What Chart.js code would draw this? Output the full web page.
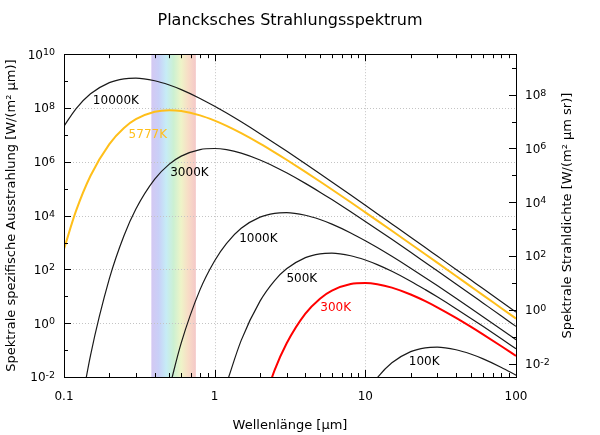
<!DOCTYPE html>
<html>
  <head>
    <meta charset="UTF-8">
    <title>Plancksches Strahlungsspektrum</title>
    <script src="https://cdn.jsdelivr.net/npm/chart.js"></script>
    <style>
      body { margin: 0; background: #fff; }
    </style>
  </head>
  <body>
    <canvas id="myChart" width="600" height="435"></canvas>

    <script>
      // Wellenlängen in µm (x-Achse)
      const wavelengths = [0.1, 0.12, 0.15, 0.2, 0.25, 0.3, 0.4, 0.5, 0.6, 0.8,
        1, 1.2, 1.5, 2, 2.5, 3, 4, 5, 6, 8,
        10, 12, 15, 20, 25, 30, 40, 50, 60, 80, 100];

      // spezifische Ausstrahlung in W/(m² µm)
      const t10000 = [2.11e7, 9.33e7, 3.37e8, 8.79e8, 1.217e9, 1.283e9, 1.029e9, 7.14e8, 4.81e8, 2.27e8,
        1.163e8, 6.49e7, 3.06e7, 1.11e7, 4.92e6, 2.50e6, 8.44e5, 3.59e5, 1.776e5, 5.80e4,
        2.42e4, 1.181e4, 4890, 1568, 647, 313, 99.8, 41.0, 19.83, 6.29, 2.58];
      const t5777 = [571, 1.457e4, 3.03e5, 4.57e6, 1.806e7, 3.82e7, 7.24e7, 8.28e7, 7.70e7, 5.31e7,
        3.38e7, 2.16e7, 1.157e7, 4.73e6, 2.24e6, 1.190e6, 4.23e5, 1.855e5, 9.35e4, 3.13e4,
        1.323e4, 6520, 2730, 882, 366, 178, 56.9, 23.4, 11.36, 3.61, 1.484];
      const t3000 = [null, 6.6e-5, 0.064, 45.1, 1786, 1.756e4, 2.27e5, 8.18e5, 1.626e6, 2.85e6,
        3.12e6, 2.82e6, 2.10e6, 1.170e6, 6.59e5, 3.90e5, 1.577e5, 7.44e4, 3.93e4, 1.391e4,
        6080, 3060, 1308, 432, 181, 88.8, 28.7, 11.9, 5.78, 1.849, 0.762];
      const t1000 = [null, null, null, null, null, null, null, 0.0038, 0.185, 17.7,
        211, 933, 3370, 8790, 12170, 12830, 10290, 7140, 4810, 2270,
        1163, 649, 306, 111, 49.2, 25.0, 8.44, 3.59, 1.776, 0.580, 0.242];
      const t500 = [null, null, null, null, null, null, null, null, null, null,
        null, 0.0058, 0.230, 6.60, 38.4, 105, 275, 380, 401, 322,
        223, 150, 84.8, 36.4, 17.7, 9.57, 3.47, 1.539, 0.782, 0.264, 0.112];
      const t300 = [null, null, null, null, null, null, null, null, null, null,
        null, null, null, 4.5e-4, 0.0179, 0.1757, 2.27, 8.18, 16.26, 28.5,
        31.2, 28.2, 21.0, 11.7, 6.59, 3.90, 1.577, 0.744, 0.393, 0.139, 0.0608];
      const t100 = [null, null, null, null, null, null, null, null, null, null,
        null, null, null, null, null, null, null, null, null, null,
        0.00211, 0.00933, 0.0337, 0.0879, 0.1217, 0.1283, 0.1029, 0.0714, 0.0481, 0.0227, 0.01163];

      const xTicks = [0.1, 1, 10, 100];
      const yTicks = [1e-2, 1e0, 1e2, 1e4, 1e6, 1e8, 1e10];
      const y2Ticks = [1e-2, 1e0, 1e2, 1e4, 1e6, 1e8];

      // sichtbarer Bereich in µm
      const visibleBand = [0.38, 0.75];
      const bandColors = ['#d4c8f2', '#c9d0f8', '#c6ecf6', '#ccf0d2', '#eef4c8', '#f8dcc6', '#f4c8c8'];

      // Beschriftungen der Kurven (Wellenlänge, Wert)
      const curveLabels = ['10000K', '5777K', '3000K', '1000K', '500K', '300K', '100K'];
      const labelWavelengths = [0.221, 0.360, 0.680, 1.95, 3.79, 6.36, 24.6];
      const labelValues = [1.79e8, 9.8e6, 3.8e5, 1340, 43.9, 3.77, 0.0362];

      const ORANGE = '#ffbf1a';
      const RED = '#ff0000';
      const DARK = '#1a1a1a';
      const lineColors = [DARK, ORANGE, DARK, DARK, DARK, RED, DARK];
      const lineWidths = [1.2, 2, 1.2, 1.2, 1.2, 2, 1.2];
      const series = [t10000, t5777, t3000, t1000, t500, t300, t100];

      const rightTitle = 'Spektrale Strahldichte [W/(m² µm sr)]';

      Chart.defaults.font.family = 'DejaVu Sans';
      Chart.defaults.color = '#000';

      // 10 hoch n, mit kleinem Exponenten
      function drawPow(ctx, v, px, py, align) {
        const e = String(Math.round(Math.log10(v)));
        ctx.font = '12px "DejaVu Sans"';
        const w1 = ctx.measureText('10').width;
        ctx.font = '9.5px "DejaVu Sans"';
        const w2 = ctx.measureText(e).width;
        const x0 = align === 'right' ? px - w1 - w2 : px;
        const base = py + 4.4;
        ctx.textAlign = 'left';
        ctx.textBaseline = 'alphabetic';
        ctx.font = '12px "DejaVu Sans"';
        ctx.fillText('10', x0, base);
        ctx.font = '9.5px "DejaVu Sans"';
        ctx.fillText(e, x0 + w1, base - 3.5);
      }

      const framePlugin = {
        id: 'frame',
        beforeDatasetsDraw(chart) {
          const {ctx, chartArea: a, scales: {x, y}} = chart;
          ctx.save();
          // Regenbogen
          const x0 = x.getPixelForValue(visibleBand[0]);
          const x1 = x.getPixelForValue(visibleBand[1]);
          const g = ctx.createLinearGradient(x0, 0, x1, 0);
          bandColors.forEach((c, i) => g.addColorStop(i / (bandColors.length - 1), c));
          ctx.fillStyle = g;
          ctx.fillRect(x0, a.top, x1 - x0, a.bottom - a.top);
          // gepunktetes Gitter
          ctx.strokeStyle = '#c4c4c4';
          ctx.lineWidth = 1;
          ctx.setLineDash([1, 2]);
          ctx.beginPath();
          yTicks.slice(1, -1).forEach(v => {
            const py = Math.round(y.getPixelForValue(v)) + 0.5;
            ctx.moveTo(a.left, py);
            ctx.lineTo(a.right, py);
          });
          xTicks.slice(1, -1).forEach(v => {
            const px = Math.round(x.getPixelForValue(v)) + 0.5;
            ctx.moveTo(px, a.top);
            ctx.lineTo(px, a.bottom);
          });
          ctx.stroke();
          ctx.restore();
        },
        afterDatasetsDraw(chart) {
          const {ctx, chartArea: a, scales: {x, y, y2}} = chart;
          ctx.save();
          ctx.strokeStyle = '#000';
          ctx.lineWidth = 1;
          ctx.beginPath();
          // links
          for (let k = -2; k <= 10; k++) {
            const py = Math.round(y.getPixelForValue(Math.pow(10, k))) + 0.5;
            const len = k % 2 === 0 ? 7 : 4;
            ctx.moveTo(a.left, py);
            ctx.lineTo(a.left + len, py);
          }
          // rechts
          for (let k = -2; k <= 9; k++) {
            const py = Math.round(y2.getPixelForValue(Math.pow(10, k))) + 0.5;
            const len = k % 2 === 0 ? 7 : 4;
            ctx.moveTo(a.right, py);
            ctx.lineTo(a.right - len, py);
          }
          // unten und oben
          [0.1, 1, 10].forEach(d => {
            for (let m = 1; m <= 9; m++) {
              const px = Math.round(x.getPixelForValue(d * m)) + 0.5;
              const len = m === 1 ? 7 : 4;
              ctx.moveTo(px, a.bottom);
              ctx.lineTo(px, a.bottom - len);
              ctx.moveTo(px, a.top);
              ctx.lineTo(px, a.top + len);
            }
          });
          ctx.stroke();
          ctx.strokeRect(Math.round(a.left) + 0.5, Math.round(a.top) + 0.5,
            Math.round(a.right - a.left), Math.round(a.bottom - a.top));

          // Kurvenbeschriftungen
          ctx.font = '12px "DejaVu Sans"';
          ctx.textAlign = 'center';
          ctx.textBaseline = 'middle';
          curveLabels.forEach((t, i) => {
            ctx.fillStyle = lineColors[i] === DARK ? '#000' : lineColors[i];
            ctx.fillText(t, x.getPixelForValue(labelWavelengths[i]), y.getPixelForValue(labelValues[i]));
          });

          // Achsenbeschriftung links und rechts
          ctx.fillStyle = '#000';
          yTicks.forEach(v => drawPow(ctx, v, a.left - 9, y.getPixelForValue(v), 'right'));
          y2Ticks.forEach(v => drawPow(ctx, v, a.right + 9, y2.getPixelForValue(v), 'left'));

          // rechter Achsentitel, von unten nach oben
          ctx.translate(568, (a.top + a.bottom) / 2);
          ctx.rotate(-Math.PI / 2);
          ctx.font = '13px "DejaVu Sans"';
          ctx.textAlign = 'center';
          ctx.textBaseline = 'middle';
          ctx.fillText(rightTitle, 0, 0);
          ctx.restore();
        }
      };

      const ctx = document.getElementById('myChart').getContext('2d');
      new Chart(ctx, {
        type: 'line',
        data: {
          datasets: series.map((vals, i) => ({
            label: curveLabels[i],
            data: wavelengths.map((w, j) => ({x: w, y: vals[j]})),
            borderColor: lineColors[i],
            borderWidth: lineWidths[i],
            pointRadius: 0,
            fill: false,
            cubicInterpolationMode: 'monotone',
            spanGaps: false
          }))
        },
        options: {
          responsive: false,
          animation: false,
          layout: { padding: 0 },
          plugins: {
            legend: { display: false },
            tooltip: { enabled: false },
            title: {
              display: true,
              fullSize: false,
              text: 'Plancksches Strahlungsspektrum',
              font: { size: 16, weight: 'normal' },
              color: '#000',
              padding: { top: 11, bottom: 24 }
            }
          },
          scales: {
            x: {
              type: 'logarithmic',
              min: 0.1,
              max: 100,
              grid: { display: false, drawTicks: false },
              border: { display: false },
              afterBuildTicks: s => { s.ticks = xTicks.map(v => ({ value: v })); },
              afterFit: s => { s.height = 58; },
              ticks: {
                font: { size: 12 },
                padding: 13,
                maxRotation: 0,
                callback: v => String(v)
              },
              title: {
                display: true,
                text: 'Wellenlänge [µm]',
                font: { size: 13 },
                padding: { top: 0, bottom: 2 }
              }
            },
            y: {
              type: 'logarithmic',
              position: 'left',
              min: 1e-2,
              max: 1e10,
              grid: { display: false, drawTicks: false },
              border: { display: false },
              afterBuildTicks: s => { s.ticks = yTicks.map(v => ({ value: v })); },
              afterFit: s => { s.width = 64; },
              ticks: { display: false },
              title: {
                display: true,
                text: 'Spektrale spezifische Ausstrahlung [W/(m² µm)]',
                font: { size: 13 },
                padding: { top: 4, bottom: 0 }
              }
            },
            y2: {
              type: 'logarithmic',
              position: 'right',
              min: 1e-2 / Math.PI,
              max: 1e10 / Math.PI,
              grid: { display: false, drawTicks: false },
              border: { display: false },
              afterBuildTicks: s => { s.ticks = y2Ticks.map(v => ({ value: v })); },
              afterFit: s => { s.width = 84; },
              ticks: { display: false }
            }
          }
        },
        plugins: [framePlugin]
      });
    </script>
  </body>
</html>
